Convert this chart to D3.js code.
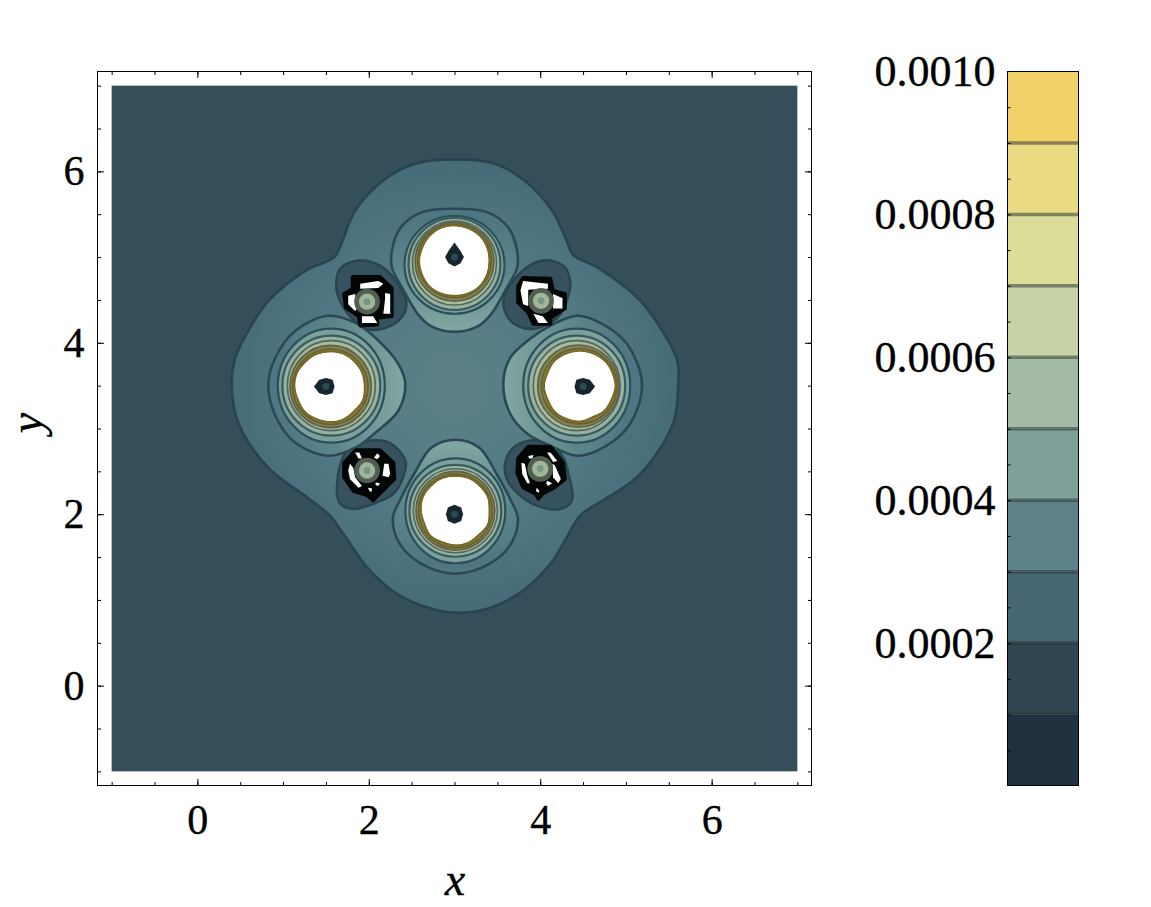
<!DOCTYPE html>
<html><head><meta charset="utf-8">
<style>html,body{margin:0;padding:0;background:#fff}svg{display:block}text{font-family:"Liberation Serif",serif;fill:#000}</style>
<script src="https://cdn.jsdelivr.net/npm/d3@7"></script></head><body><svg id="c" width="1151" height="907"></svg>
<script>
// ---- data (all in data units) ----
const xTicksMajor=[0,2,4,6], yTicksMajor=[0,2,4,6];
const minorTicks=[-1,-0.5,0,0.5,1,1.5,2,2.5,3,3.5,4,4.5,5,5.5,6,6.5,7];
const levelEdges=[0,0.0001,0.0002,0.0003,0.0004,0.0005,0.0006,0.0007,0.0008,0.0009,0.001];
const levelColors=["#20323f","#304651","#446772","#5d8287","#7fa098","#a3bba4","#c5d3a6","#dcdc99","#eadb83","#f2d169"];
const barLabels=[0.0002,0.0004,0.0006,0.0008,0.0010];
const barMinor=[0.00005,0.0001,0.00015,0.0002,0.00025,0.0003,0.00035,0.0004,0.00045,0.0005,0.00055,0.0006,0.00065,0.0007,0.00075,0.0008,0.00085,0.0009,0.00095];
const outerContour=[[3.00,6.14],[3.47,6.09],[3.82,5.89],[4.14,5.54],[4.31,5.19],[4.38,5.03],[4.70,4.86],[5.17,4.49],[5.46,4.08],[5.60,3.79],[5.61,3.50],[5.56,3.09],[5.34,2.68],[5.08,2.39],[4.73,2.16],[4.47,1.99],[4.31,1.73],[4.12,1.42],[3.80,1.11],[3.42,0.91],[3.03,0.85],[2.72,0.90],[2.33,1.07],[1.98,1.38],[1.73,1.73],[1.55,1.98],[1.29,2.19],[0.83,2.54],[0.48,3.06],[0.40,3.50],[0.44,3.82],[0.56,4.08],[0.83,4.49],[1.26,4.84],[1.60,5.00],[1.67,5.13],[1.84,5.54],[2.19,5.91],[2.54,6.09]];
const eggTop=[[3,5.563],[3.40,5.516],[3.63,5.341],[3.73,5.073],[3.73,4.875],[3.61,4.641],[3.43,4.338],[3.28,4.198],[3,4.128],[2.72,4.198],[2.57,4.338],[2.39,4.641],[2.27,4.875],[2.27,5.073],[2.37,5.341],[2.60,5.516]];
const eggBottom=[[3.01,2.869],[3.29,2.776],[3.49,2.472],[3.66,2.157],[3.74,1.948],[3.66,1.656],[3.41,1.423],[3.01,1.306],[2.61,1.423],[2.36,1.656],[2.28,1.948],[2.36,2.157],[2.53,2.472],[2.73,2.776]];
const eggLeft=[[0.828,3.522],[0.910,3.825],[1.143,4.140],[1.528,4.315],[1.843,4.233],[2.076,4.058],[2.344,3.755],[2.426,3.522],[2.344,3.207],[2.076,2.950],[1.843,2.776],[1.528,2.682],[1.143,2.834],[0.910,3.149]];
const eggRight=[[3.569,3.522],[3.650,3.825],[3.883,4.047],[4.117,4.198],[4.431,4.315],[4.700,4.233],[5.012,3.988],[5.187,3.522],[5.05,3.055],[4.735,2.776],[4.431,2.682],[4.117,2.799],[3.85,2.939],[3.650,3.172]];
const ringsTop=[[3.0,4.91,.583,.571],[3.0,4.92,.536,.536],[3.0,4.93,.49,.49],[3.0,4.945,.46,.46],[3.0,4.956,.43,.43]];
const ringsBottom=[[3.01,2.04,.583,.612],[3.01,2.04,.536,.536],[3.01,2.04,.49,.49],[3.01,2.04,.46,.46],[3.01,2.04,.43,.43]];
const ringsLeft=[[1.563,3.5,.624,.665],[1.563,3.5,.571,.583],[1.563,3.5,.513,.525],[1.555,3.49,.475,.48],[1.551,3.487,.44,.44]];
const ringsRight=[[4.426,3.5,.624,.665],[4.426,3.5,.566,.583],[4.426,3.5,.507,.525],[4.445,3.494,.475,.48],[4.455,3.494,.44,.44]];
const discCentres=[[3.0,4.956],[3.01,2.04],[1.545,3.487],[4.461,3.494]];
const discRadii=[[.40,.40,.405,.40,.395,.40,.405,.40,.395,.40,.405,.40,.40,.395,.40,.405],[.395,.40,.395,.40,.385,.40,.38,.39,.39,.385,.40,.38,.39,.40,.395,.40],[.40,.405,.40,.40,.395,.405,.39,.40,.40,.395,.40,.39,.40,.405,.395,.40],[.40,.40,.405,.40,.405,.39,.395,.38,.40,.40,.405,.395,.405,.395,.405,.40]];
const chargeDots=[[3.0,5.0],[3.0,2.0],[1.5,3.49],[4.5,3.49]];
const dotRadii=[[.17,.10,.11,.10,.11,.10,.11,.10],[.11,.11,.10,.11,.11,.11,.10,.11],[.10,.11,.10,.11,.10,.11,.14,.11],[.10,.11,.14,.11,.10,.11,.10,.11]];
const blobs=[
[[1.62,4.72],[1.67,4.87],[1.87,4.96],[2.13,4.90],[2.34,4.69],[2.44,4.45],[2.37,4.28],[2.19,4.17],[1.98,4.16],[1.78,4.31],[1.64,4.55]],
[[4.35,4.72],[4.27,4.90],[4.03,4.96],[3.77,4.82],[3.57,4.49],[3.65,4.26],[3.88,4.16],[4.20,4.29],[4.33,4.55]],
[[1.63,2.22],[1.67,2.59],[1.78,2.78],[2.02,2.86],[2.25,2.83],[2.43,2.62],[2.40,2.43],[2.29,2.24],[2.05,2.12],[1.82,2.06],[1.67,2.12]],
[[3.59,2.59],[3.67,2.76],[3.88,2.86],[4.12,2.82],[4.27,2.66],[4.33,2.47],[4.37,2.16],[4.23,2.06],[3.96,2.10],[3.73,2.25],[3.61,2.41]]];
const blackShapes=[
[[1.81,4.77],[2.13,4.77],[2.27,4.64],[2.27,4.31],[2.10,4.29],[2.10,4.21],[1.90,4.20],[1.88,4.31],[1.73,4.41],[1.71,4.57],[1.81,4.63]],
[[3.74,4.66],[3.80,4.76],[4.12,4.75],[4.15,4.61],[4.29,4.57],[4.29,4.40],[4.12,4.29],[4.12,4.22],[3.92,4.22],[3.86,4.35],[3.74,4.47]],
[[1.85,2.75],[2.13,2.75],[2.29,2.60],[2.30,2.41],[2.16,2.27],[2.05,2.16],[1.98,2.22],[1.82,2.27],[1.71,2.43],[1.71,2.60]],
[[3.86,2.79],[4.12,2.79],[4.27,2.60],[4.29,2.41],[4.15,2.30],[4.03,2.24],[3.98,2.18],[3.94,2.24],[3.80,2.31],[3.73,2.48],[3.74,2.65]]];
const whitePatches=[
[[1.90,4.69],[2.11,4.72],[2.17,4.69],[2.11,4.64],[1.90,4.63]],[[2.19,4.58],[2.25,4.57],[2.25,4.34],[2.17,4.34],[2.19,4.51]],[[1.76,4.55],[1.84,4.57],[1.87,4.41],[1.84,4.37],[1.76,4.45]],[[1.92,4.31],[2.05,4.31],[2.10,4.23],[1.92,4.23]],
[[3.80,4.72],[4.09,4.69],[4.09,4.63],[3.86,4.62],[3.86,4.43],[3.80,4.45],[3.77,4.61]],[[4.15,4.57],[4.26,4.52],[4.26,4.40],[4.15,4.40]],[[3.92,4.34],[4.03,4.31],[4.09,4.23],[3.98,4.23]],
[[1.78,2.59],[1.82,2.54],[1.84,2.43],[1.92,2.33],[1.88,2.31],[1.78,2.41],[1.76,2.51]],[[2.18,2.59],[2.23,2.59],[2.25,2.47],[2.23,2.43],[2.16,2.45]],[[1.84,2.72],[1.89,2.72],[1.92,2.65],[1.88,2.65]],[[2.10,2.71],[2.13,2.68],[2.10,2.64],[2.06,2.66]],[[1.99,2.31],[2.04,2.30],[2.03,2.26],[2.01,2.27]],[[2.08,2.37],[2.13,2.36],[2.11,2.33],[2.08,2.34]],
[[3.78,2.60],[3.82,2.59],[3.85,2.45],[3.88,2.36],[3.85,2.36],[3.79,2.47]],[[4.14,2.59],[4.17,2.57],[4.24,2.41],[4.21,2.36],[4.15,2.43]],[[4.08,2.72],[4.12,2.72],[4.20,2.62],[4.15,2.61]],[[3.86,2.68],[3.92,2.69],[3.91,2.65],[3.87,2.65]],[[3.96,2.31],[3.99,2.27],[3.98,2.25],[3.95,2.27]],[[4.08,2.39],[4.14,2.36],[4.09,2.33],[4.07,2.36]]];
const siteCentres=[[1.98,4.48],[4.01,4.49],[1.98,2.51],[4.0,2.53]];
const siteRadii=[.15,.095,.04];
const siteColors=["#4f5f52","#a2b697","#70998b"];
const ringFills=["#7aa19c","#98b1a0","#a9bb9d","#7e8458","#8a7f45"];
const ringStrokes=["#2d4f58","#3a5b5e","#51685f","#5d6244","#6a5e2e"];

// ---- scales ----
const x=d3.scaleLinear().domain([-1.165,7.165]).range([97.5,811.5]);
const y=d3.scaleLinear().domain([-1.165,7.165]).range([785.5,71.5]);
const bar=d3.scaleLinear().domain([0,0.001]).range([786,71.5]);
const svg=d3.select("#c");
const defs=svg.append("defs");
const sx=v=>x(v)-x(0), sy=v=>y(0)-y(v);
const closed=d3.line().x(d=>x(d[0])).y(d=>y(d[1])).curve(d3.curveCatmullRomClosed.alpha(.5));
const poly=d3.line().x(d=>x(d[0])).y(d=>y(d[1])).curve(d3.curveLinearClosed);

const rg=defs.append("radialGradient").attr("id","wash").attr("gradientUnits","userSpaceOnUse")
  .attr("cx",x(3)).attr("cy",y(3.5)).attr("r",sx(2.7));
rg.append("stop").attr("offset",0).attr("stop-color","#5c8187");
rg.append("stop").attr("offset",.55).attr("stop-color","#527a84");
rg.append("stop").attr("offset",1).attr("stop-color","#456b77");

const plot=svg.append("g");
plot.append("rect").attr("x",x(-1)).attr("y",y(7)).attr("width",x(7)-x(-1)).attr("height",y(-1)-y(7)).attr("fill","#354f5a");
plot.append("path").attr("d",closed(outerContour)).attr("fill","url(#wash)").attr("stroke","#2a444f").attr("stroke-width",2.6);
plot.selectAll(".blob").data(blobs).join("path").attr("d",closed).attr("fill","#36525e").attr("stroke","#2a4550").attr("stroke-width",2.4);

const lobes=[
 {egg:eggTop,rings:ringsTop,g:[0,0,0,1]},
 {egg:eggBottom,rings:ringsBottom,g:[0,1,0,0]},
 {egg:eggLeft,rings:ringsLeft,g:[0,0,1,0]},
 {egg:eggRight,rings:ringsRight,g:[1,0,0,0]}];
lobes.forEach((l,i)=>{
  const lg=defs.append("linearGradient").attr("id","egg"+i).attr("x1",l.g[0]).attr("y1",l.g[1]).attr("x2",l.g[2]).attr("y2",l.g[3]);
  lg.append("stop").attr("offset",.1).attr("stop-color","#4f7783");
  lg.append("stop").attr("offset",.5).attr("stop-color","#5d868b");
  lg.append("stop").attr("offset",.95).attr("stop-color","#7fa5a0");
  const g=plot.append("g");
  g.append("path").attr("d",closed(l.egg)).attr("fill",`url(#egg${i})`).attr("stroke","#2b4954").attr("stroke-width",2.6);
  g.selectAll("ellipse").data(l.rings).join("ellipse")
    .attr("cx",d=>x(d[0])).attr("cy",d=>y(d[1])).attr("rx",d=>sx(d[2])).attr("ry",d=>sy(d[3]))
    .attr("fill",(d,j)=>ringFills[j]).attr("stroke",(d,j)=>ringStrokes[j]).attr("stroke-width",(d,j)=>j<2?2.2:1.6);
});

const radial=d3.lineRadial().angle((d,i)=>i/16*2*Math.PI).radius(d=>sx(d)).curve(d3.curveCatmullRomClosed);
discCentres.forEach((c,i)=>{
  const g=plot.append("g").attr("transform",`translate(${x(c[0])},${y(c[1])})`);
  g.append("path").attr("d",radial(discRadii[i].map(r=>r+.012))).attr("fill","#fff").attr("stroke","#7a6a28").attr("stroke-width",2.4);
  g.append("path").attr("d",radial(discRadii[i])).attr("fill","#fff");
});
const radial8=d3.lineRadial().angle((d,i)=>i/8*2*Math.PI).radius(d=>sx(d)).curve(d3.curveLinearClosed);
chargeDots.forEach((c,i)=>{
  const g=plot.append("g").attr("transform",`translate(${x(c[0])},${y(c[1])})`);
  g.append("path").attr("d",radial8(dotRadii[i])).attr("fill","#17262e");
  g.append("circle").attr("r",sx(.04)).attr("fill","#2e4a4e");
});

plot.selectAll(".black").data(blackShapes).join("path").attr("d",poly).attr("fill","#040606").attr("stroke","#040606").attr("stroke-width",3.5).attr("stroke-linejoin","round");
plot.selectAll(".white").data(whitePatches).join("path").attr("d",poly).attr("fill","#fff");
siteCentres.forEach(c=>{
  plot.selectAll(null).data(siteRadii).join("circle").attr("cx",x(c[0])).attr("cy",y(c[1])).attr("r",d=>sx(d)).attr("fill",(d,j)=>siteColors[j]);
});

svg.append("rect").attr("x",97.5).attr("y",71.5).attr("width",714).attr("height",714).attr("fill","none").attr("stroke","#000");
function ticks(axisFn,scale,vals,size,t,labels){
  const a=axisFn(scale).tickValues(vals).tickSizeOuter(0).tickSizeInner(-size);
  if(labels){a.tickFormat(d3.format("d"));a.tickPadding(labels);}else a.tickFormat("");
  const g=svg.append("g").attr("transform",t).call(a);
  g.select(".domain").remove();
  g.selectAll("line").attr("stroke","#000");
  g.selectAll("text").attr("font-family","Liberation Serif").attr("font-size",42).attr("fill","#000").attr("stroke","#000").attr("stroke-width",.35);
  return g;
}
ticks(d3.axisBottom,x,minorTicks,3.5,"translate(0,785.5)");
ticks(d3.axisTop,x,minorTicks,3.5,"translate(0,71.5)");
ticks(d3.axisLeft,y,minorTicks,3.5,"translate(97.5,0)");
ticks(d3.axisRight,y,minorTicks,3.5,"translate(811.5,0)");
ticks(d3.axisBottom,x,xTicksMajor,6.5,"translate(0,785.5)",19);
ticks(d3.axisTop,x,xTicksMajor,6.5,"translate(0,71.5)");
ticks(d3.axisLeft,y,yTicksMajor,6.5,"translate(97.5,0)",13);
ticks(d3.axisRight,y,yTicksMajor,6.5,"translate(811.5,0)");
svg.append("text").attr("x",455).attr("y",895).attr("text-anchor","middle").attr("font-size",46).attr("font-style","italic").attr("stroke","#000").attr("stroke-width",.35).text("x");
svg.append("text").attr("transform","translate(42,423) rotate(-90)").attr("text-anchor","middle").attr("font-size",46).attr("font-style","italic").attr("stroke","#000").attr("stroke-width",.35).text("y");

const bars=levelColors.map((c,i)=>({c,a:levelEdges[i],b:levelEdges[i+1]}));
svg.append("g").selectAll("rect").data(bars).join("rect").attr("x",1007.5).attr("width",71)
  .attr("y",d=>bar(d.b)).attr("height",d=>bar(d.a)-bar(d.b)).attr("fill",d=>d.c);
svg.append("g").selectAll("line").data(levelEdges.slice(1,-1)).join("line").attr("x1",1007.5).attr("x2",1078.5)
  .attr("y1",d=>bar(d)).attr("y2",d=>bar(d)).attr("stroke","#1d2a2a").attr("stroke-opacity",.5).attr("stroke-width",3.5);
svg.append("rect").attr("x",1007.5).attr("y",71.5).attr("width",71).attr("height",714).attr("fill","none").attr("stroke","#000");
const ba=svg.append("g").attr("transform","translate(1007.5,0)").call(d3.axisLeft(bar).tickValues(barMinor).tickSizeOuter(0).tickSizeInner(-3).tickFormat(""));
ba.select(".domain").remove();ba.selectAll("line").attr("stroke","#000");
const bl=svg.append("g").attr("transform","translate(1007.5,0)").call(d3.axisLeft(bar).tickValues(barLabels).tickSizeOuter(0).tickSizeInner(0).tickPadding(12).tickFormat(d3.format(".4f")));
bl.select(".domain").remove();bl.selectAll("line").remove();
bl.selectAll("text").attr("font-family","Liberation Serif").attr("font-size",44).attr("fill","#000").attr("stroke","#000").attr("stroke-width",.35);
</script></body></html>
